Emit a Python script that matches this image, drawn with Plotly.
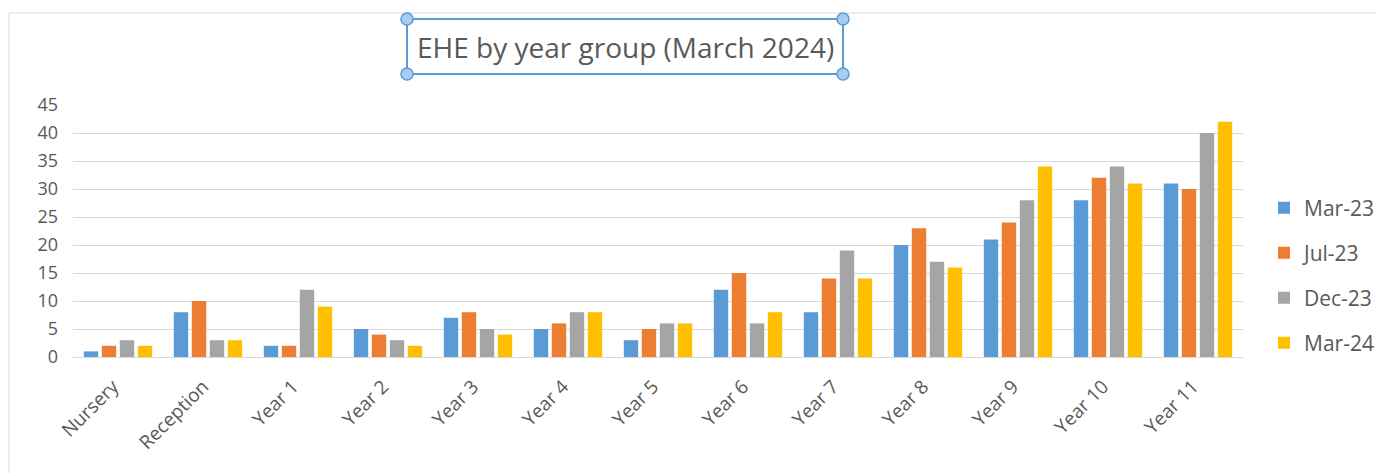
import plotly.graph_objects as go

categories = ["Nursery", "Reception", "Year 1", "Year 2", "Year 3", "Year 4", "Year 5",
              "Year 6", "Year 7", "Year 8", "Year 9", "Year 10", "Year 11"]
series_names = ["Mar-23", "Jul-23", "Dec-23", "Mar-24"]
mar23 = [1, 8, 2, 5, 7, 5, 3, 12, 8, 20, 21, 28, 31]
jul23 = [2, 10, 2, 4, 8, 6, 5, 15, 14, 23, 24, 32, 30]
dec23 = [3, 3, 12, 3, 5, 8, 6, 6, 19, 17, 28, 34, 40]
mar24 = [2, 3, 9, 2, 4, 8, 6, 8, 14, 16, 34, 31, 42]
y_ticks = [0, 5, 10, 15, 20, 25, 30, 35, 40, 45]
title_text = "EHE by year group (March 2024)"

colors = ["#5B9BD5", "#ED7D31", "#A5A5A5", "#FFC000"]
values = [mar23, jul23, dec23, mar24]

OFF = 8  # page body margin
W, H = 1384 - OFF, 473 - OFF
# plot area in screen pixels
L, R, T, B = 73, 1243, 105, 357
pw, ph = R - L, B - T

def px(x):
    return (x - L) / pw

def py(y):
    return (B - y) / ph

FONT = "Open Sans"
GREY = "#595959"

fig = go.Figure()
legend_names = ["legend", "legend2", "legend3", "legend4"]
for i, (name, vals, col) in enumerate(zip(series_names, values, colors)):
    fig.add_trace(go.Bar(
        x=categories, y=vals, name=name,
        marker=dict(color=col, line=dict(width=0)),
        legend=legend_names[i], showlegend=True,
    ))

legend_y_px = [208, 253, 298, 343]
legend_cfg = {}
for i, ln in enumerate(legend_names):
    legend_cfg[ln] = dict(
        x=px(1264), xanchor="left",
        y=py(legend_y_px[i]), yanchor="middle",
        font=dict(family=FONT, size=21, color=GREY),
        bgcolor="rgba(0,0,0,0)", borderwidth=0, visible=True,
    )

shapes = []
# outer chart border (light grey)
shapes.append(dict(type="rect", xref="paper", yref="paper",
                   x0=px(9), x1=px(1400), y0=py(13), y1=py(490),
                   line=dict(color="#D9D9D9", width=1), fillcolor="rgba(0,0,0,0)", layer="below"))
# title selection box
bx0, bx1, by0, by1 = 407, 843, 19, 74
shapes.append(dict(type="rect", xref="paper", yref="paper",
                   x0=px(bx0), x1=px(bx1), y0=py(by0), y1=py(by1),
                   line=dict(color="#5B9BD5", width=2), fillcolor="rgba(0,0,0,0)"))
r = 6
for cx, cy in [(bx0, by0), (bx1, by0), (bx0, by1), (bx1, by1)]:
    shapes.append(dict(type="circle", xref="paper", yref="paper",
                       x0=px(cx - r), x1=px(cx + r), y0=py(cy - r), y1=py(cy + r),
                       line=dict(color="#5B9BD5", width=1.5), fillcolor="#A9CDEE"))

fig.update_layout(
    width=W, height=H,
    margin=dict(l=L - OFF, r=W - (R - OFF), t=T - OFF, b=H - (B - OFF), autoexpand=False),
    paper_bgcolor="white", plot_bgcolor="white",
    barmode="group", bargap=0.2, bargroupgap=0.2,
    font=dict(family=FONT, color=GREY),
    showlegend=True,
    shapes=shapes,
    annotations=[dict(text=title_text, xref="paper", yref="paper",
                      x=px(625), y=py(47), xanchor="center", yanchor="middle",
                      showarrow=False, font=dict(family=FONT, size=28, color=GREY))],
    **legend_cfg,
)
fig.update_xaxes(tickangle=-45, tickfont=dict(family=FONT, size=19, color=GREY),
                 showgrid=False, showline=True, linecolor="#D9D9D9", linewidth=1,
                 ticks="", ticklabelstandoff=10, ticklabelshift=-5)
fig.update_yaxes(range=[0, 45], tickvals=y_ticks, ticktext=[str(v) for v in y_ticks],
                 tickfont=dict(family=FONT, size=18, color=GREY),
                 showgrid=True, gridcolor="#D9D9D9", gridwidth=1,
                 zeroline=True, zerolinecolor="#D9D9D9", zerolinewidth=1,
                 showline=False, ticks="", ticklabelstandoff=14)

fig.write_html("out.html")
